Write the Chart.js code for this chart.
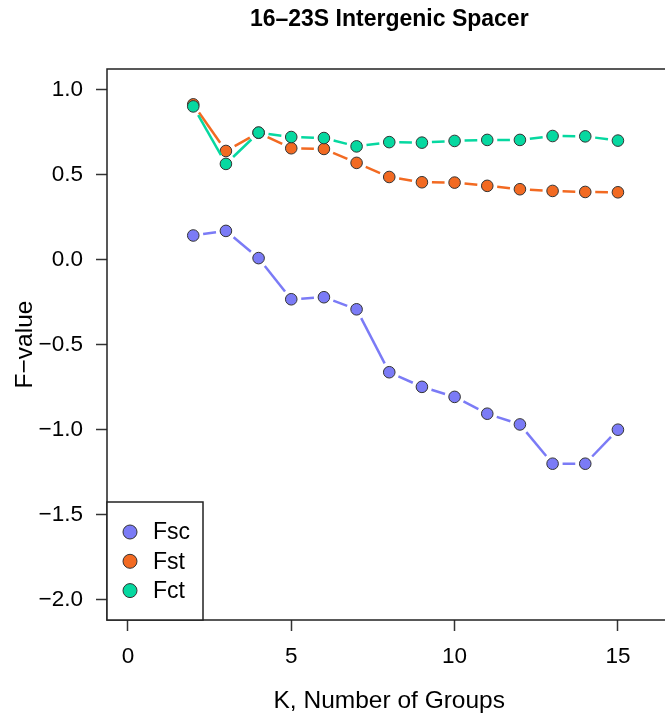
<!DOCTYPE html>
<html>
<head>
<meta charset="utf-8">
<script src="https://cdn.jsdelivr.net/npm/chart.js@4"></script>
<style>
  html, body { margin: 0; padding: 0; background: #fff; overflow: hidden; }
  #wrap { width: 700px; height: 719px; }
</style>
</head>
<body>
<div id="wrap"><canvas id="fvalues" width="700" height="719"></canvas></div>
<script>
// number of groups K and the three F-statistics
const groups = [2, 3, 4, 5, 6, 7, 8, 9, 10, 11, 12, 13, 14, 15];
const fsc = [0.141, 0.168, 0.008, -0.234, -0.222, -0.293, -0.663, -0.749, -0.808, -0.907, -0.970, -1.201, -1.201, -1.001];
const fst = [0.912, 0.638, 0.745, 0.654, 0.650, 0.568, 0.485, 0.454, 0.452, 0.433, 0.413, 0.403, 0.397, 0.395];
const fct = [0.900, 0.562, 0.746, 0.720, 0.714, 0.665, 0.690, 0.687, 0.697, 0.703, 0.703, 0.726, 0.724, 0.699];

const xTicks = [0, 5, 10, 15];
const yTicks = [-2.0, -1.5, -1.0, -0.5, 0.0, 0.5, 1.0];

const FONT = '"Liberation Sans", Arial, Helvetica, sans-serif';
const GAP = 10; // blank space left around each point, like type="b"

function points(vals) {
  return groups.map((k, i) => ({ x: k, y: vals[i] }));
}

// one dash per segment, shortened at both ends
function gapDash(ctx) {
  const len = Math.hypot(ctx.p1.x - ctx.p0.x, ctx.p1.y - ctx.p0.y);
  const on = Math.max(len - 2 * GAP, 0);
  return [0, GAP, on, len + 50 + ctx.p0DataIndex * 0.001];
}

function series(label, vals, color, order) {
  return {
    label: label,
    data: points(vals),
    order: order,
    borderColor: color,
    backgroundColor: color,
    borderWidth: 2.5,
    pointRadius: 5.8,
    pointBorderWidth: 1,
    pointBorderColor: '#333',
    pointBackgroundColor: color,
    segment: { borderDash: gapDash }
  };
}

const frame = {
  id: 'frame',
  afterDatasetsDraw(chart) {
    const a = chart.chartArea;
    const c = chart.ctx;
    c.save();
    c.strokeStyle = '#222';
    c.lineWidth = 1.5;
    c.strokeRect(a.left, a.top, a.right - a.left, a.bottom - a.top);

    // legend box in the bottom-left corner
    const w = 96, h = 118;
    const x0 = a.left, y0 = a.bottom - h;
    c.fillStyle = '#fff';
    c.fillRect(x0, y0, w, h);
    c.strokeRect(x0, y0, w, h);
    c.font = '23px ' + FONT;
    c.textBaseline = 'middle';
    c.textAlign = 'left';
    chart.data.datasets.forEach((ds, i) => {
      const cy = y0 + 30 + i * 29.3;
      c.beginPath();
      c.arc(x0 + 23, cy, 7, 0, Math.PI * 2);
      c.fillStyle = ds.backgroundColor;
      c.fill();
      c.lineWidth = 1;
      c.strokeStyle = '#333';
      c.stroke();
      c.fillStyle = '#000';
      c.fillText(ds.label, x0 + 46, cy + 1);
    });
    c.restore();
  }
};

const ctx = document.getElementById('fvalues');

new Chart(ctx, {
  type: 'line',
  data: {
    datasets: [
      series('Fsc', fsc, '#7b7bf6', 3),
      series('Fst', fst, '#f26a22', 2),
      series('Fct', fct, '#06d8a0', 1)
    ]
  },
  options: {
    responsive: false,
    animation: false,
    layout: { padding: { left: 0, right: 28.5, top: 0, bottom: 0 } },
    plugins: {
      legend: { display: false },
      tooltip: { enabled: false },
      title: {
        display: true,
        fullSize: false,
        text: '16–23S Intergenic Spacer',
        color: '#000',
        font: { family: FONT, size: 23, weight: 'bold' },
        padding: { top: 6, bottom: 35.4 }
      }
    },
    scales: {
      x: {
        type: 'linear',
        min: -0.64,
        max: 16.64,
        afterBuildTicks: s => { s.ticks = xTicks.map(v => ({ value: v })); },
        afterFit: s => { s.height = 99; },
        grid: { drawOnChartArea: false, tickLength: 11, tickColor: '#333', tickWidth: 1.5 },
        border: { display: false },
        ticks: { color: '#000', padding: 12, maxRotation: 0, font: { family: FONT, size: 22.5 } },
        title: {
          display: true,
          text: 'K, Number of Groups',
          color: '#000',
          font: { family: FONT, size: 24.5 },
          padding: { top: 0, bottom: 3 }
        }
      },
      y: {
        min: -2.12,
        max: 1.12,
        afterBuildTicks: s => { s.ticks = yTicks.map(v => ({ value: v })); },
        afterFit: s => { s.width = 107; },
        grid: { drawOnChartArea: false, tickLength: 11, tickColor: '#333', tickWidth: 1.5 },
        border: { display: false },
        ticks: {
          color: '#000',
          padding: 13,
          font: { family: FONT, size: 22.5 },
          callback: v => v.toFixed(1).replace('-', '\u2212')
        },
        title: {
          display: true,
          text: 'F\u2212value',
          color: '#000',
          font: { family: FONT, size: 24.5 },
          padding: { top: 11, bottom: 0 }
        }
      }
    }
  },
  plugins: [frame]
});
</script>
</body>
</html>
